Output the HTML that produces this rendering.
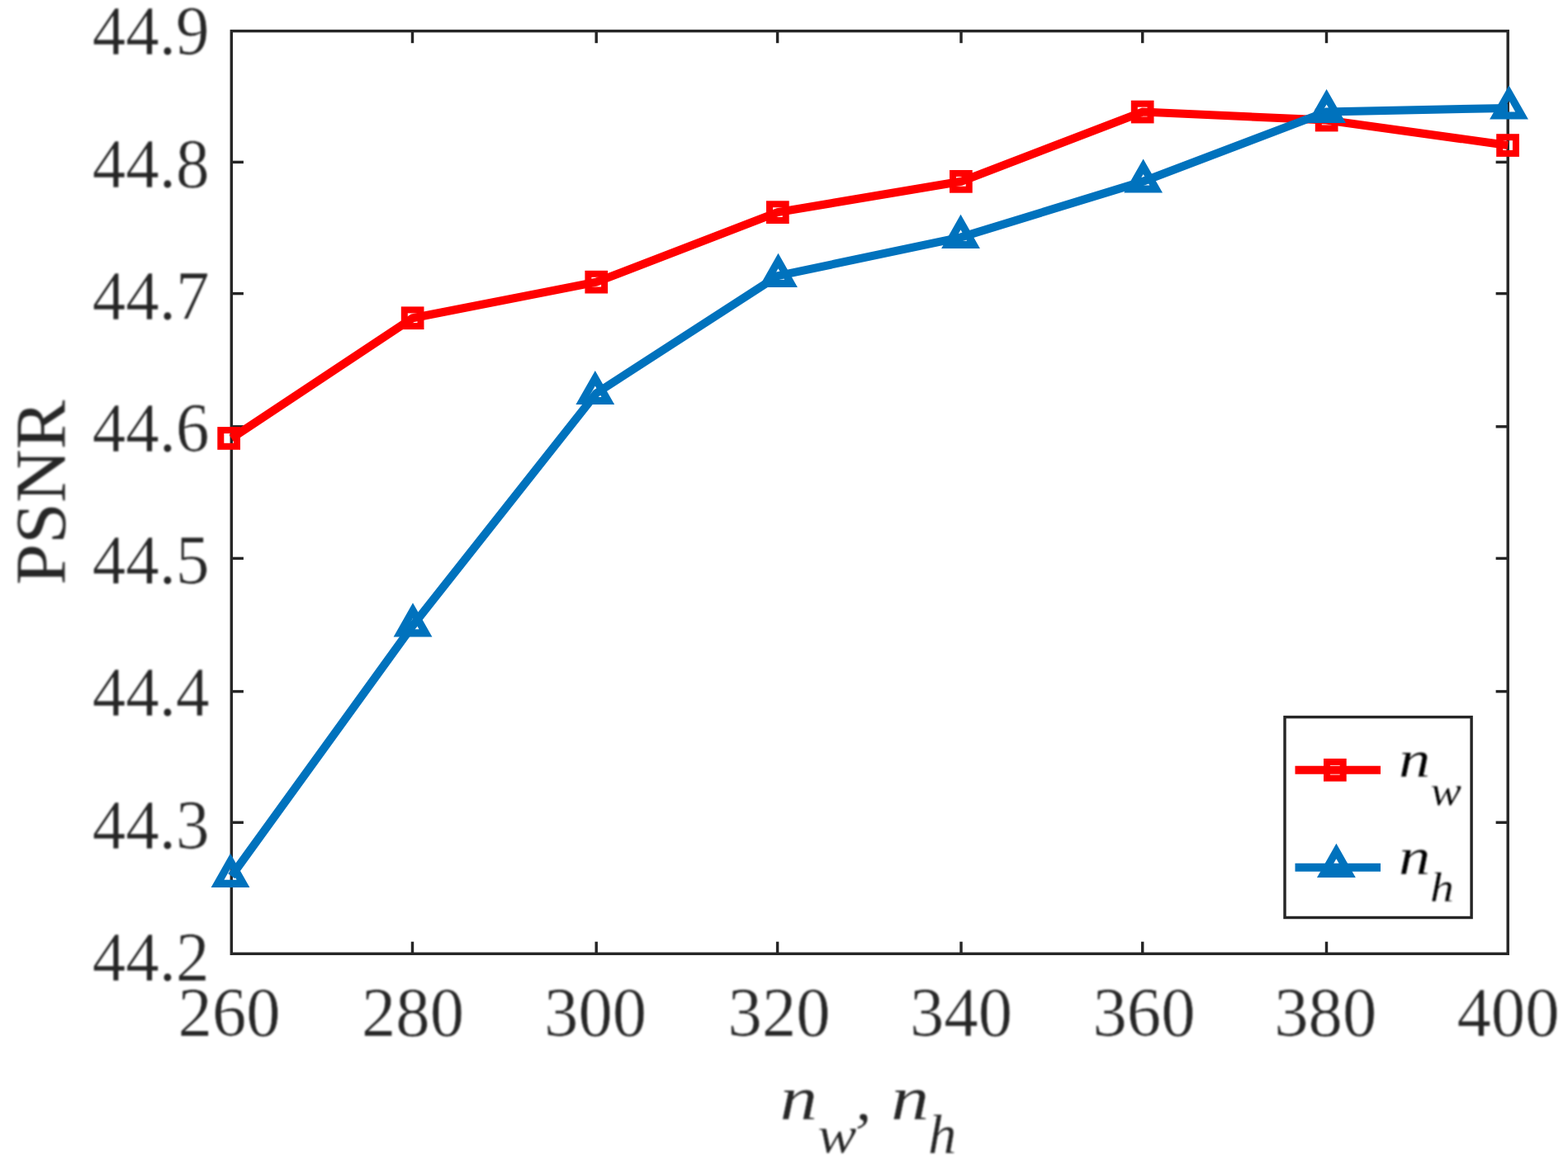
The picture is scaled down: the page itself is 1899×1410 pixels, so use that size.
<!DOCTYPE html>
<html lang="en">
<head>
<meta charset="utf-8">
<title>PSNR vs n_w, n_h</title>
<style>
html,body{margin:0;padding:0;background:#fff;}
body{width:1899px;height:1410px;overflow:hidden;}
svg{display:block;}
text{font-family:"Liberation Serif","DejaVu Serif",serif;stroke:#fff;stroke-width:0.6;paint-order:fill stroke;}
.soft{filter:blur(0.8px);}
.tk{font-size:84px;fill:#262626;}
.lb{font-size:87px;fill:#262626;stroke-width:0;}
.lg{font-size:73px;fill:#000;stroke-width:0.9;}
.it{font-style:italic;}
</style>
</head>
<body>
<svg role="img" aria-label="PSNR versus n_w, n_h line chart" width="1899" height="1410" viewBox="0 0 1899 1410">
<rect x="-10" y="-10" width="1919" height="1430" fill="#ffffff"/>
<g id="axes" stroke="#262626" stroke-width="3.45" fill="none" stroke-linecap="butt">
<rect x="280.3" y="37.6" width="1545.9" height="1117.7"/>
<line x1="499.5" y1="1155.3" x2="499.5" y2="1140.7"/><line x1="499.5" y1="37.6" x2="499.5" y2="52.2"/>
<line x1="722.2" y1="1155.3" x2="722.2" y2="1140.7"/><line x1="722.2" y1="37.6" x2="722.2" y2="52.2"/>
<line x1="941.6" y1="1155.3" x2="941.6" y2="1140.7"/><line x1="941.6" y1="37.6" x2="941.6" y2="52.2"/>
<line x1="1164.0" y1="1155.3" x2="1164.0" y2="1140.7"/><line x1="1164.0" y1="37.6" x2="1164.0" y2="52.2"/>
<line x1="1383.7" y1="1155.3" x2="1383.7" y2="1140.7"/><line x1="1383.7" y1="37.6" x2="1383.7" y2="52.2"/>
<line x1="1606.5" y1="1155.3" x2="1606.5" y2="1140.7"/><line x1="1606.5" y1="37.6" x2="1606.5" y2="52.2"/>
<line x1="280.3" y1="196.4" x2="294.9" y2="196.4"/><line x1="1826.2" y1="196.4" x2="1811.6" y2="196.4"/>
<line x1="280.3" y1="355.6" x2="294.9" y2="355.6"/><line x1="1826.2" y1="355.6" x2="1811.6" y2="355.6"/>
<line x1="280.3" y1="516.8" x2="294.9" y2="516.8"/><line x1="1826.2" y1="516.8" x2="1811.6" y2="516.8"/>
<line x1="280.3" y1="676.4" x2="294.9" y2="676.4"/><line x1="1826.2" y1="676.4" x2="1811.6" y2="676.4"/>
<line x1="280.3" y1="837.6" x2="294.9" y2="837.6"/><line x1="1826.2" y1="837.6" x2="1811.6" y2="837.6"/>
<line x1="280.3" y1="996.3" x2="294.9" y2="996.3"/><line x1="1826.2" y1="996.3" x2="1811.6" y2="996.3"/>
</g>
<g id="labels" class="soft">
<g id="yticks" class="tk" text-anchor="end">
<text transform="translate(253.6,66.4) scale(0.965,1)">44.9</text>
<text transform="translate(253.6,226.6) scale(0.965,1)">44.8</text>
<text transform="translate(253.6,386.8) scale(0.965,1)">44.7</text>
<text transform="translate(253.6,547.0) scale(0.965,1)">44.6</text>
<text transform="translate(253.6,707.2) scale(0.965,1)">44.5</text>
<text transform="translate(253.6,867.4) scale(0.965,1)">44.4</text>
<text transform="translate(253.6,1027.6) scale(0.965,1)">44.3</text>
<text transform="translate(253.6,1187.8) scale(0.965,1)">44.2</text>
</g>
<g id="xticks" class="tk" text-anchor="middle">
<text transform="translate(277.6,1254.7) scale(0.985,1)">260</text>
<text transform="translate(500.0,1254.7) scale(0.985,1)">280</text>
<text transform="translate(721.1,1254.7) scale(0.985,1)">300</text>
<text transform="translate(943.6,1254.7) scale(0.985,1)">320</text>
<text transform="translate(1164.0,1254.7) scale(0.985,1)">340</text>
<text transform="translate(1385.5,1254.7) scale(0.985,1)">360</text>
<text transform="translate(1605.2,1254.7) scale(0.985,1)">380</text>
<text transform="translate(1826.5,1254.7) scale(0.985,1)">400</text>
</g>
<text class="lb" text-anchor="middle" transform="translate(78.6,596.6) rotate(-90) scale(1.03,1)">PSNR</text>
<text class="lb it" style="stroke-width:0.3"><tspan x="944.5" y="1355.6" style="font-size:76.4px" textLength="45.64" lengthAdjust="spacingAndGlyphs">n</tspan><tspan x="990.2" y="1396.4" style="font-size:64.1px" textLength="47.10" lengthAdjust="spacingAndGlyphs">w</tspan><tspan x="1036.0" y="1355.6" style="font-size:72.8px" textLength="39.34" lengthAdjust="spacingAndGlyphs">, </tspan><tspan x="1079.0" y="1355.6" style="font-size:76.4px" textLength="46.35" lengthAdjust="spacingAndGlyphs">n</tspan><tspan x="1124.0" y="1396.7" style="font-size:66.6px" textLength="34.45" lengthAdjust="spacingAndGlyphs">h</tspan></text>
</g>
<g id="series-nw" stroke="#ff0000" fill="none" stroke-linejoin="miter">
<polyline stroke-width="10" points="280.3,531.0 499.8,385.3 722.1,341.7 941.9,257.1 1163.9,219.8 1383.8,135.5 1606.5,145.5 1826.2,176.0"/>
<g stroke-width="8"><rect x="267.3" y="521.1" width="19.7" height="19.7"/><rect x="489.8" y="375.4" width="19.7" height="19.7"/><rect x="712.4" y="331.8" width="19.7" height="19.7"/><rect x="932.0" y="247.3" width="19.7" height="19.7"/><rect x="1154.0" y="210.0" width="19.7" height="19.7"/><rect x="1373.8" y="125.7" width="19.7" height="19.7"/><rect x="1596.8" y="135.7" width="19.7" height="19.7"/><rect x="1816.2" y="166.2" width="19.7" height="19.7"/></g>
</g>
<g id="series-nh" stroke="#0072bd" fill="none" stroke-linejoin="miter">
<polyline stroke-width="10" points="280.3,1061.3 499.8,757.8 722.1,476.4 941.9,334.2 1163.9,287.3 1383.8,219.9 1606.5,135.4 1826.2,130.9"/>
<g stroke-width="9.2"><path d="M279.0 1043.1 L294.5 1070.4 L263.5 1070.4 Z"/><path d="M500.0 739.6 L515.5 766.9 L484.5 766.9 Z"/><path d="M720.8 458.2 L736.3 485.5 L705.3 485.5 Z"/><path d="M942.5 316.0 L958.0 343.3 L927.0 343.3 Z"/><path d="M1163.5 269.1 L1179.0 296.4 L1148.0 296.4 Z"/><path d="M1384.6 201.7 L1400.1 229.0 L1369.1 229.0 Z"/><path d="M1606.6 117.2 L1622.1 144.5 L1591.1 144.5 Z"/><path d="M1827.5 112.7 L1843.0 140.0 L1812.0 140.0 Z"/></g>
</g>
<g id="legend">
<rect x="1556" y="868.6" width="226.1" height="242.9" fill="#fff" stroke="#262626" stroke-width="3.45"/>
<g stroke="#ff0000" fill="none"><line x1="1568.5" y1="932.8" x2="1672" y2="932.8" stroke-width="10"/><g stroke-width="8"><rect x="1607.0" y="922.9" width="19.7" height="19.7"/></g></g>
<g stroke="#0072bd" fill="none"><line x1="1568.5" y1="1050.8" x2="1672" y2="1050.8" stroke-width="10"/><g stroke-width="9.2"><path d="M1618.4 1031.0 L1633.9 1058.3 L1602.9 1058.3 Z"/></g></g>
<g class="soft">
<text class="lg it" style="stroke-width:0.3"><tspan x="1693.9" y="940.7" style="font-size:62.6px" textLength="38.31" lengthAdjust="spacingAndGlyphs">n</tspan><tspan x="1732.5" y="974.6" style="font-size:50.1px" textLength="37.45" lengthAdjust="spacingAndGlyphs">w</tspan></text>
<text class="lg it" style="stroke-width:0.3"><tspan x="1693.9" y="1058.6" style="font-size:62.4px" textLength="38.31" lengthAdjust="spacingAndGlyphs">n</tspan><tspan x="1732.1" y="1092.4" style="font-size:51.3px" textLength="28.88" lengthAdjust="spacingAndGlyphs">h</tspan></text>
</g>
</g>
</svg>
</body>
</html>
